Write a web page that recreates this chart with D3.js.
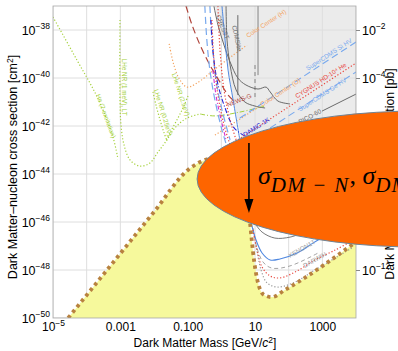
<!DOCTYPE html>
<html>
<head>
<meta charset="utf-8">
<script src="https://cdn.jsdelivr.net/npm/d3@7"></script>
<style>
  body { margin: 0; background: #fff; }
  svg { display: block; font-family: "Liberation Sans", Arial, sans-serif; }
</style>
</head>
<body>
<div id="chart"></div>
<script>
// curves are [log10(mass / GeV), log10(sigma / cm^2)]
const xTicks = [1e-5, 1e-3, 1e-1, 10, 1000];
const xTickLabels = ["10^-5", "0.001", "0.100", "10", "1000"];
const yTicks = [1e-38, 1e-40, 1e-42, 1e-44, 1e-46, 1e-48, 1e-50];
const yTickLabels = ["10^-38", "10^-40", "10^-42", "10^-44", "10^-46", "10^-48", "10^-50"];
// right axis: 10^-6 .. 10^-10 sit under the bubble, only their ticks are drawn
const pbTicks = [1e-2, 1e-4, 1e-6, 1e-8, 1e-10, 1e-12];
const pbTickLabels = ["10^-2", "10^-4", "", "", "", "10^-12"];

const neutrinoFloor = [[-4.55,-50.0],[-2.0,-45.58],[-0.99,-43.83],[-0.63,-43.5],[-0.19,-43.33],[0.41,-43.42],[0.73,-44.25],[0.85,-46.0],[0.97,-47.58],[1.09,-48.54],[1.27,-49.04],[1.50,-49.13],[1.89,-48.83],[4.0,-46.83]];
const excludedRegion = [[-0.19,-37],[-0.04,-38.0],[0.17,-39.25],[0.35,-40.92],[0.61,-42.58],[1.15,-45.08],[4.0,-45.08],[4.0,-37]];

const heExcitation = [[-5.0,-37.46],[-4.29,-39.25],[-3.69,-40.79],[-3.22,-42.46],[-3.07,-43.38]];
const lheNR1meV = [[-3.01,-37.58],[-3.01,-40.92],[-2.98,-41.96],[-2.89,-42.79],[-2.71,-43.42],[-2.42,-43.67],[-2.12,-43.54],[-1.88,-43.08],[-1.64,-42.63],[-1.38,-42.08],[-1.02,-41.67],[-0.63,-41.5]];
const lheNR025 = [[-2.03,-40.58],[-1.94,-41.13],[-1.82,-41.75],[-1.70,-42.29],[-1.61,-42.63]];
const lheNR25 = [[-0.99,-40.75],[-1.14,-41.25],[-1.32,-41.75],[-1.53,-42.29],[-1.64,-42.63]];
const heDashDot = [[-0.63,-41.5],[-0.19,-41.58],[0.55,-41.42],[1.30,-41.17]];
const colorCenterH = [[-1.55,-38.58],[-1.41,-39.46],[-1.23,-40.08],[-1.02,-40.38],[-0.72,-40.21],[-0.19,-39.63],[0.32,-39.08],[0.76,-38.63]];
const colorCenterO = [[-0.19,-42.38],[1.15,-41.17]];
const newsG = [[-1.05,-37.0],[-0.87,-37.79],[-0.63,-38.63],[-0.34,-39.46],[-0.04,-40.17],[0.20,-40.71],[0.44,-41.04]];
const blueDashA = [[-0.49,-37],[-0.43,-38.42],[-0.34,-39.67],[-0.19,-40.92],[0.02,-42.17],[0.20,-43.0]];
const blueDashB = [[-0.34,-37],[-0.28,-38.42],[-0.16,-40.08],[0.02,-41.33],[0.26,-42.58]];
const blueSolid = [[0.02,-37],[0.11,-38.42],[0.2,-39.67],[0.35,-40.92],[0.55,-42.58]];
const damic = [[-0.31,-37.58],[-0.25,-38.83],[-0.13,-40.08],[0.08,-41.13],[0.38,-42.08],[0.70,-42.42]];
const magentaDashDot = [[-0.25,-39.67],[-0.16,-40.71],[-0.04,-41.54],[0.14,-42.58]];
const redDotA = [[-0.28,-37.58],[-0.22,-39.25],[-0.10,-40.71],[0.08,-41.96],[0.26,-42.79]];
const redDotB = [[-0.10,-37],[-0.04,-38.83],[0.08,-40.5],[0.26,-41.75],[0.44,-42.58]];
const cygnus = [[0.26,-42.79],[4.0,-39.38]];
const siHV = [[0.55,-41.67],[4.0,-38.5]];
const geHV = [[1.45,-42.08],[4.0,-39.75]];
const pico60 = [[2.99,-41.38],[4.0,-40.67]];
const cresst = [[-0.22,-37],[-0.10,-37.79],[0.08,-38.63],[0.26,-39.33],[0.49,-40.0],[0.73,-40.29],[1.09,-40.46],[1.33,-40.38],[1.45,-40.58],[1.68,-40.96],[2.04,-41.08]];
const cdmsLite = [[0.14,-37],[0.17,-38.42],[0.26,-39.46],[0.44,-40.5],[0.70,-41.0],[1.0,-41.17],[1.30,-41.25]];
const grayVertA = [[0.49,-37.38],[0.49,-40.71]];
const grayVertB = [[1.09,-37],[1.09,-39.88]];
const grayDashVert = [[1.0,-39.46],[1.0,-40.92]];
const xenonBlue = [[0.88,-46.0],[1.03,-46.75],[1.21,-47.29],[1.45,-47.58],[1.74,-47.54],[2.25,-47.29],[2.72,-46.88],[3.23,-46.46]];
const graySolidLow = [[0.97,-46.0],[1.21,-46.42],[1.59,-46.67],[2.04,-46.63],[2.48,-46.42]];
const redDotLow = [[0.94,-46.33],[1.06,-47.17],[1.21,-47.88],[1.45,-48.25],[1.74,-48.33],[2.25,-48.04],[2.78,-47.58],[3.38,-47.17],[3.82,-46.83]];
const grayDotLow = [[1.03,-46.96],[1.18,-48.0],[1.36,-48.54],[1.68,-48.71],[2.19,-48.5],[2.78,-48.0],[3.38,-47.5],[3.88,-47.08]];
const grayDashLow = [[0.94,-46.25],[1.06,-47.08],[1.24,-47.67],[1.50,-47.92],[2.04,-47.83],[2.93,-47.25]];

// annotation anchors, same log units
const bubbleCenter = [5.9, -44.21], bubbleLeft = -0.72, bubbleTop = -41.375;
const arrowFrom = [0.82, -42.71], arrowTo = [0.82, -45.62];
const sigmaAt = [1.09, -44.42];

const GREEN = "#a5d13c", ORANGE = "#f3a35f", RED = "#e8453c", DKRED = "#b0443a",
      LTBLUE = "#78a9ee", BLUE = "#4f88e0", DKBLUE = "#2525d8", MAG = "#d22fd2", GRAY = "#6a6a6a", LTGRAY = "#9a9a9a";

const curves = [
  {d: heExcitation, c: GREEN, dash: "1.2,2", w: 1.2},
  {d: lheNR1meV, c: GREEN, dash: "1.2,2", w: 1.2},
  {d: lheNR025, c: GREEN, dash: "1.2,2", w: 1.2},
  {d: lheNR25, c: GREEN, dash: "1.2,2", w: 1.2},
  {d: heDashDot, c: GREEN, dash: "5,2,1,2", w: 1},
  {d: colorCenterH, c: ORANGE, dash: "1.2,2", w: 1.2},
  {d: colorCenterO, c: ORANGE, dash: "1.2,2", w: 1.2},
  {d: cresst, c: GRAY, dash: null, w: 1},
  {d: cdmsLite, c: GRAY, dash: null, w: 1},
  {d: grayVertA, c: GRAY, dash: null, w: 1},
  {d: grayVertB, c: GRAY, dash: null, w: 0.8},
  {d: grayDashVert, c: GRAY, dash: "4,3", w: 0.8},
  {d: pico60, c: GRAY, dash: null, w: 1},
  {d: newsG, c: DKRED, dash: "7,4", w: 1.2},
  {d: blueDashA, c: LTBLUE, dash: "7,4", w: 1.2},
  {d: blueDashB, c: LTBLUE, dash: "7,4", w: 1.2},
  {d: blueSolid, c: BLUE, dash: null, w: 1},
  {d: damic, c: DKBLUE, dash: "5,2,1,2", w: 1.1},
  {d: magentaDashDot, c: MAG, dash: "4,2,1,2", w: 1.1},
  {d: redDotA, c: RED, dash: "1.2,2", w: 1.2},
  {d: redDotB, c: RED, dash: "1.2,2", w: 1.2},
  {d: cygnus, c: RED, dash: "1.2,2", w: 1.2},
  {d: siHV, c: LTBLUE, dash: "7,4", w: 1.1},
  {d: geHV, c: LTBLUE, dash: "7,4", w: 1.1},
  {d: graySolidLow, c: GRAY, dash: null, w: 0.9},
  {d: grayDashLow, c: LTGRAY, dash: "4,3", w: 0.9},
  {d: xenonBlue, c: BLUE, dash: null, w: 1.1},
  {d: redDotLow, c: RED, dash: "1.2,2", w: 1.2},
  {d: grayDotLow, c: LTGRAY, dash: "1.2,2", w: 1.2}
];

const labels = [
  {at: [-3.72,-40.71], t: "He (2-excitation)", a: 70, c: GREEN},
  {at: [-2.96,-39.2], t: "LHe NR (1 meV), LT", a: 90, c: GREEN},
  {at: [-2.0,-40.5], t: "LHe NR (0.25eV)", a: 73, c: GREEN},
  {at: [-1.47,-39.83], t: "LHe NR (2.5eV)", a: 72, c: GREEN},
  {at: [0.79,-38.33], t: "Color Center (H)", a: -33, c: ORANGE},
  {at: [1.21,-41.2], t: "Color Center (O)", a: -33, c: ORANGE},
  {at: [2.57,-39.7], t: "SuperCDMS Si HV", a: -33, c: LTBLUE},
  {at: [2.25,-40.85], t: "CYGNUS HD-10\u2074 He", a: -33, c: RED},
  {at: [2.34,-41.4], t: "SuperCDMS Ge HV", a: -33, c: LTBLUE},
  {at: [2.34,-41.92], t: "PICO-60", a: -28, c: GRAY},
  {at: [0.70,-42.46], t: "DAMIC-1K", a: -33, c: DKBLUE},
  {at: [0.20,-41.21], t: "NEWS-G", a: -22, c: DKRED},
  {at: [0.32,-37.83], t: "CDMSlite", a: 78, c: GRAY},
  {at: [-0.16,-37.42], t: "CRESST", a: 68, c: GRAY},
  {at: [2.04,-47.5], t: "XENON1T", a: -30, c: LTGRAY},
  {at: [2.48,-47.92], t: "DARWIN", a: -30, c: LTGRAY}
];

const W = 398, H = 351;
const x = d3.scaleLog().domain([1e-5, 1e4]).range([53, 356]);
const y = d3.scaleLog().domain([1e-50, 1e-37]).range([318, 6]);
const yPb = d3.scaleLog().domain([1e-14, 1e-1]).range([318, 6]);
const px = d => x(10 ** d[0]);
const py = d => y(10 ** d[1]);

const svg = d3.select("#chart").append("svg").attr("width", W).attr("height", H);

svg.append("clipPath").attr("id", "plot")
  .append("rect").attr("x", 53).attr("y", 6).attr("width", 303).attr("height", 312);
const plot = svg.append("g").attr("clip-path", "url(#plot)");

// excluded (gray) region
plot.append("path")
  .attr("d", d3.line().x(px).y(py)(excludedRegion))
  .attr("fill", "#ebebeb");

// grid
const gx = d3.range(-5, 5).map(e => 10 ** e);
plot.selectAll(".gx").data(gx).enter().append("line")
  .attr("x1", d => x(d)).attr("x2", d => x(d)).attr("y1", 6).attr("y2", 318)
  .attr("stroke", "#dedede").attr("stroke-width", 1);
plot.selectAll(".gy").data(yTicks).enter().append("line")
  .attr("y1", d => y(d)).attr("y2", d => y(d)).attr("x1", 53).attr("x2", 356)
  .attr("stroke", "#dedede").attr("stroke-width", 1);

// yellow region under the floor
plot.append("path")
  .attr("d", d3.area().x(px).y0(318).y1(py).curve(d3.curveMonotoneX)(neutrinoFloor))
  .attr("fill", "#f6f99c");

const line = d3.line().x(px).y(py).curve(d3.curveCatmullRom.alpha(0.5));
plot.selectAll(".curve").data(curves).enter().append("path")
  .attr("d", d => line(d.d))
  .attr("fill", "none")
  .attr("stroke", d => d.c)
  .attr("stroke-width", d => d.w)
  .attr("stroke-dasharray", d => d.dash);

plot.append("path")
  .attr("d", d3.line().x(px).y(py).curve(d3.curveMonotoneX)(neutrinoFloor))
  .attr("fill", "none").attr("stroke", "#b8823f")
  .attr("stroke-width", 3.8).attr("stroke-dasharray", "3.4,3.6");

plot.selectAll(".lab").data(labels).enter().append("text")
  .attr("transform", d => `translate(${px(d.at)},${py(d.at)}) rotate(${d.a})`)
  .attr("font-size", 6.3).attr("fill", d => d.c)
  .text(d => d.t);

// frame
svg.append("rect").attr("x", 53).attr("y", 6).attr("width", 303).attr("height", 312)
  .attr("fill", "none").attr("stroke", "#a8a8a8").attr("stroke-width", 0.8);

function powLabel(sel, labs, supDy) {
  sel.each(function(d, i) {
    const t = d3.select(this), s = labs[i];
    t.text(null);
    if (s.indexOf("^") < 0) { t.text(s); return; }
    const parts = s.split("^");
    t.append("tspan").text(parts[0]);
    t.append("tspan").attr("dy", supDy).attr("font-size", 8.5).text(parts[1].replace("-", "\u2212"));
  });
}

const axL = svg.append("g").attr("transform", "translate(53,0)")
  .call(d3.axisLeft(y).tickValues(yTicks).tickSize(0).tickPadding(3).tickFormat(""));
axL.select(".domain").remove();
axL.selectAll(".tick text").attr("font-size", 12.5).attr("font-family", null).attr("fill", "#000")
  .call(powLabel, yTickLabels, -5.5);

const axB = svg.append("g").attr("transform", "translate(0,318)")
  .call(d3.axisBottom(x).tickValues(xTicks).tickSize(0).tickPadding(4).tickFormat(""));
axB.select(".domain").remove();
axB.selectAll(".tick text").attr("font-size", 12).attr("font-family", null).attr("fill", "#000")
  .call(powLabel, xTickLabels, -5);

const axR = svg.append("g").attr("transform", "translate(356,0)")
  .call(d3.axisRight(yPb).tickValues(pbTicks).tickSize(4).tickPadding(2).tickFormat(""));
axR.select(".domain").remove();
axR.selectAll(".tick line").attr("stroke", "#888");
axR.selectAll(".tick text").attr("font-size", 12.5).attr("font-family", null).attr("fill", "#000")
  .call(powLabel, pbTickLabels, -5.5);

// axis titles
const tl = svg.append("text").attr("transform", "translate(17,167) rotate(-90)")
  .attr("text-anchor", "middle").attr("font-size", 12.5);
tl.append("tspan").text("Dark Matter\u2013nucleon cross section [cm");
tl.append("tspan").attr("dy", -4).attr("font-size", 8.5).text("2");
tl.append("tspan").attr("dy", 4).text("]");

svg.append("text").attr("transform", "translate(394,174) rotate(-90)")
  .attr("text-anchor", "middle").attr("font-size", 12.2)
  .text("Dark Matter\u2013nucleon cross section [pb]");

const tb = svg.append("text").attr("x", 205).attr("y", 347)
  .attr("text-anchor", "middle").attr("font-size", 12);
tb.append("tspan").text("Dark Matter Mass [GeV/");
tb.append("tspan").attr("font-style", "italic").text("c");
tb.append("tspan").attr("dy", -4).attr("font-size", 8.5).text("2");
tb.append("tspan").attr("dy", 4).text("]");

// orange bubble with the cross-section symbols
const cx = px(bubbleCenter), cy = py(bubbleCenter);
svg.append("ellipse")
  .attr("cx", cx).attr("cy", cy)
  .attr("rx", cx - x(10 ** bubbleLeft)).attr("ry", cy - y(10 ** bubbleTop))
  .attr("fill", "#fe6500").attr("stroke", "#6f8496").attr("stroke-width", 1);

const sg = svg.append("text").attr("x", px(sigmaAt)).attr("y", py(sigmaAt))
  .attr("font-family", "'Liberation Serif', 'DejaVu Serif', serif")
  .attr("font-style", "italic").attr("font-size", 26).attr("fill", "#000");
sg.append("tspan").text("\u03c3");
sg.append("tspan").attr("dy", 8).attr("font-size", 21).attr("letter-spacing", 1.2).text("DM \u2212 N");
sg.append("tspan").attr("dy", -8).attr("font-style", "normal").text(", ");
sg.append("tspan").text("\u03c3");
sg.append("tspan").attr("dy", 8).attr("font-size", 21).attr("letter-spacing", 1.2).text("DM \u2212 e");

// arrow
const ax0 = px(arrowFrom), ay0 = py(arrowFrom), ay1 = py(arrowTo);
svg.append("line").attr("x1", ax0).attr("x2", ax0).attr("y1", ay0).attr("y2", ay1 - 10)
  .attr("stroke", "#000").attr("stroke-width", 1.6);
svg.append("path")
  .attr("d", `M${ax0 - 4.5},${ay1 - 14}L${ax0 + 4.5},${ay1 - 14}L${ax0},${ay1}Z`)
  .attr("fill", "#000");
</script>
</body>
</html>
